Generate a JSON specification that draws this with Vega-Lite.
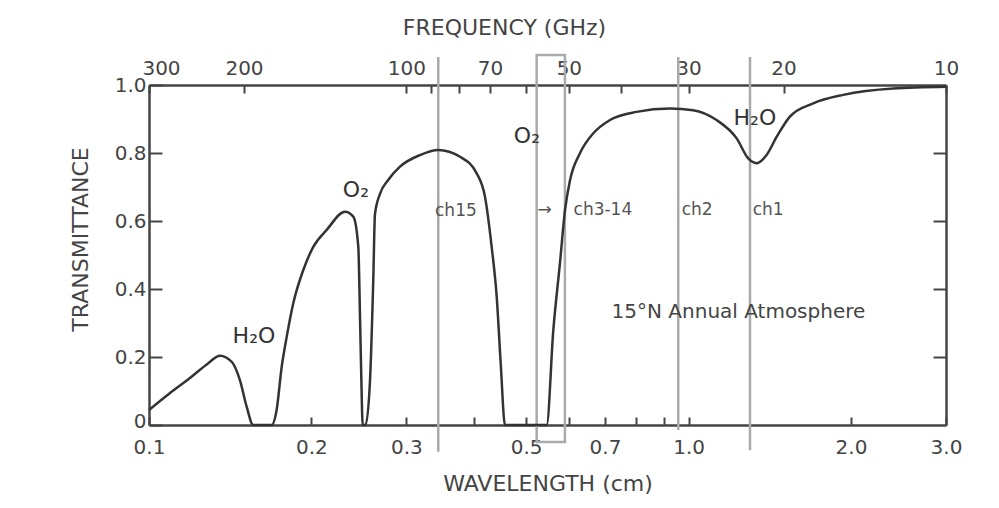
{
  "$schema": "https://vega.github.io/schema/vega-lite/v6.json",
  "width": 797,
  "height": 340,
  "autosize": {"type": "none"},
  "padding": {"left": 149, "top": 85, "right": 53, "bottom": 83},
  "background": "#ffffff",
  "config": {
    "view": {"stroke": null},
    "font": "DejaVu Sans",
    "axis": {
      "grid": false,
      "domainColor": "#444444",
      "domainWidth": 2.5,
      "tickColor": "#444444",
      "tickWidth": 2,
      "labelFont": "DejaVu Sans",
      "labelFontSize": 20,
      "labelColor": "#444444",
      "labelOverlap": false,
      "labelFlush": false,
      "titleFont": "DejaVu Sans",
      "titleFontSize": 22,
      "titleFontWeight": "normal",
      "titleColor": "#444444"
    }
  },
  "datasets": {
    "curve": [
      {"wl": 0.100, "t": 0.044},
      {"wl": 0.1094, "t": 0.094},
      {"wl": 0.1191, "t": 0.138},
      {"wl": 0.1279, "t": 0.178},
      {"wl": 0.1354, "t": 0.204},
      {"wl": 0.1423, "t": 0.186},
      {"wl": 0.1474, "t": 0.132},
      {"wl": 0.1517, "t": 0.054},
      {"wl": 0.156, "t": 0.0},
      {"wl": 0.164, "t": 0.0},
      {"wl": 0.1688, "t": 0.0},
      {"wl": 0.1724, "t": 0.044},
      {"wl": 0.1762, "t": 0.172},
      {"wl": 0.180, "t": 0.26},
      {"wl": 0.1851, "t": 0.358},
      {"wl": 0.1932, "t": 0.456},
      {"wl": 0.2016, "t": 0.524},
      {"wl": 0.2135, "t": 0.574},
      {"wl": 0.2308, "t": 0.627},
      {"wl": 0.2391, "t": 0.613},
      {"wl": 0.2443, "t": 0.524},
      {"wl": 0.246, "t": 0.329},
      {"wl": 0.2475, "t": 0.132},
      {"wl": 0.2489, "t": 0.0},
      {"wl": 0.252, "t": 0.0},
      {"wl": 0.2568, "t": 0.13},
      {"wl": 0.2604, "t": 0.426},
      {"wl": 0.2623, "t": 0.62},
      {"wl": 0.268, "t": 0.68},
      {"wl": 0.2773, "t": 0.72},
      {"wl": 0.2919, "t": 0.76},
      {"wl": 0.3178, "t": 0.794},
      {"wl": 0.3436, "t": 0.809},
      {"wl": 0.3771, "t": 0.789},
      {"wl": 0.4049, "t": 0.74},
      {"wl": 0.4195, "t": 0.671},
      {"wl": 0.4316, "t": 0.524},
      {"wl": 0.441, "t": 0.377},
      {"wl": 0.4486, "t": 0.181},
      {"wl": 0.4568, "t": 0.0},
      {"wl": 0.5458, "t": 0.0},
      {"wl": 0.5615, "t": 0.279},
      {"wl": 0.5776, "t": 0.476},
      {"wl": 0.5902, "t": 0.632},
      {"wl": 0.603, "t": 0.72},
      {"wl": 0.629, "t": 0.799},
      {"wl": 0.666, "t": 0.858},
      {"wl": 0.715, "t": 0.897},
      {"wl": 0.801, "t": 0.921},
      {"wl": 0.924, "t": 0.931},
      {"wl": 1.02, "t": 0.926},
      {"wl": 1.127, "t": 0.897},
      {"wl": 1.228, "t": 0.843},
      {"wl": 1.29, "t": 0.784},
      {"wl": 1.337, "t": 0.77},
      {"wl": 1.395, "t": 0.794},
      {"wl": 1.457, "t": 0.848},
      {"wl": 1.541, "t": 0.907},
      {"wl": 1.702, "t": 0.946},
      {"wl": 1.935, "t": 0.971},
      {"wl": 2.395, "t": 0.99},
      {"wl": 3.0, "t": 0.995}
    ],
    "channels": [
      {"name": "ch15", "freq": 87.3, "lo": -0.079, "hi": 1.082},
      {"name": "ch2", "freq": 31.35, "lo": -0.015, "hi": 1.082},
      {"name": "ch1", "freq": 23.08, "lo": -0.074, "hi": 1.082}
    ],
    "box": [
      {"f1": 57.36, "f2": 50.85, "lo": -0.05, "hi": 1.088}
    ],
    "species": [
      {"label": "H₂O", "wl": 0.1565, "t": 0.262},
      {"label": "O₂", "wl": 0.2418, "t": 0.691},
      {"label": "O₂", "wl": 0.5017, "t": 0.85},
      {"label": "H₂O", "wl": 1.327, "t": 0.903}
    ],
    "chlabels": [
      {"label": "ch15", "wl": 0.3389, "t": 0.629},
      {"label": "→", "wl": 0.5249, "t": 0.632},
      {"label": "ch3-14", "wl": 0.6121, "t": 0.632},
      {"label": "ch2", "wl": 0.971, "t": 0.632},
      {"label": "ch1", "wl": 1.315, "t": 0.632}
    ],
    "note": [
      {"label": "15°N Annual Atmosphere", "wl": 0.72, "t": 0.332}
    ]
  },
  "layer": [
    {
      "data": {"name": "channels"},
      "mark": {"type": "rule", "color": "#aaaaaa", "strokeWidth": 2.5},
      "encoding": {
        "x": {
          "field": "freq", "type": "quantitative",
          "scale": {"type": "log", "domain": [10, 300], "reverse": true, "nice": false},
          "axis": {
            "orient": "top",
            "values": [300, 200, 100, 90, 80, 70, 60, 50, 40, 30, 20, 10],
            "labelExpr": "indexof([90, 80, 60, 40], datum.value) >= 0 ? '' : format(datum.value, 'd')",
            "labelOffset": {"condition": {"test": "datum.value == 300", "value": 12}, "value": 0},
            "tickSize": -8,
            "labelPadding": 15,
            "title": "FREQUENCY (GHz)",
            "titleX": 355,
            "titleY": -58,
            "titleBaseline": "middle"
          }
        },
        "y": {
          "field": "lo", "type": "quantitative",
          "scale": {"domain": [0, 1], "nice": false, "zero": false},
          "axis": {
            "orient": "right",
            "values": [0.2, 0.4, 0.6, 0.8],
            "labels": false,
            "tickSize": -13,
            "title": null
          }
        },
        "y2": {"field": "hi"}
      }
    },
    {
      "data": {"name": "box"},
      "mark": {"type": "rect", "filled": false, "stroke": "#aaaaaa", "strokeWidth": 2.5},
      "encoding": {
        "x": {
          "field": "f1", "type": "quantitative",
          "scale": {"type": "log", "domain": [10, 300], "reverse": true, "nice": false},
          "axis": null
        },
        "x2": {"field": "f2"},
        "y": {
          "field": "lo", "type": "quantitative",
          "scale": {"domain": [0, 1], "nice": false, "zero": false},
          "axis": null
        },
        "y2": {"field": "hi"}
      }
    },
    {
      "data": {"name": "curve"},
      "mark": {"type": "line", "interpolate": "monotone", "color": "#333333", "strokeWidth": 2.5},
      "encoding": {
        "x": {
          "field": "wl", "type": "quantitative",
          "scale": {"type": "log", "domain": [0.1, 3], "nice": false},
          "axis": {
            "orient": "bottom",
            "values": [0.1, 0.2, 0.3, 0.4, 0.5, 0.6, 0.7, 0.8, 0.9, 1, 2, 3],
            "labelExpr": "indexof([0.4, 0.6, 0.8, 0.9], datum.value) >= 0 ? '' : format(datum.value, '.1f')",
            "tickSize": -8,
            "labelPadding": 20,
            "title": "WAVELENGTH (cm)",
            "titleY": 58,
            "titleBaseline": "middle"
          }
        },
        "y": {
          "field": "t", "type": "quantitative",
          "scale": {"domain": [0, 1], "nice": false, "zero": false},
          "axis": {
            "orient": "left",
            "values": [0, 0.2, 0.4, 0.6, 0.8, 1],
            "labelExpr": "datum.value == 0 ? '0' : format(datum.value, '.1f')",
            "labelOffset": {"condition": {"test": "datum.value == 0", "value": -4}, "value": 0},
            "tickSize": -13,
            "labelPadding": 16,
            "title": "TRANSMITTANCE",
            "titleX": -69,
            "titleY": 154,
            "titleBaseline": "middle"
          }
        }
      }
    },
    {
      "data": {"name": "species"},
      "mark": {"type": "text", "align": "center", "baseline": "middle", "font": "DejaVu Sans", "fontSize": 22, "color": "#333333"},
      "encoding": {
        "x": {"field": "wl", "type": "quantitative", "scale": {"type": "log", "domain": [0.1, 3], "nice": false}, "axis": null},
        "y": {"field": "t", "type": "quantitative", "scale": {"domain": [0, 1], "nice": false, "zero": false}, "axis": null},
        "text": {"field": "label"}
      }
    },
    {
      "data": {"name": "chlabels"},
      "mark": {"type": "text", "align": "left", "baseline": "middle", "font": "DejaVu Sans", "fontSize": 17, "color": "#555555"},
      "encoding": {
        "x": {"field": "wl", "type": "quantitative", "scale": {"type": "log", "domain": [0.1, 3], "nice": false}, "axis": null},
        "y": {"field": "t", "type": "quantitative", "scale": {"domain": [0, 1], "nice": false, "zero": false}, "axis": null},
        "text": {"field": "label"}
      }
    },
    {
      "data": {"name": "note"},
      "mark": {"type": "text", "align": "left", "baseline": "middle", "font": "DejaVu Sans", "fontSize": 20, "color": "#444444"},
      "encoding": {
        "x": {"field": "wl", "type": "quantitative", "scale": {"type": "log", "domain": [0.1, 3], "nice": false}, "axis": null},
        "y": {"field": "t", "type": "quantitative", "scale": {"domain": [0, 1], "nice": false, "zero": false}, "axis": null},
        "text": {"field": "label"}
      }
    }
  ],
  "resolve": {
    "scale": {"x": "independent"},
    "axis": {"x": "independent", "y": "independent"}
  }
}
